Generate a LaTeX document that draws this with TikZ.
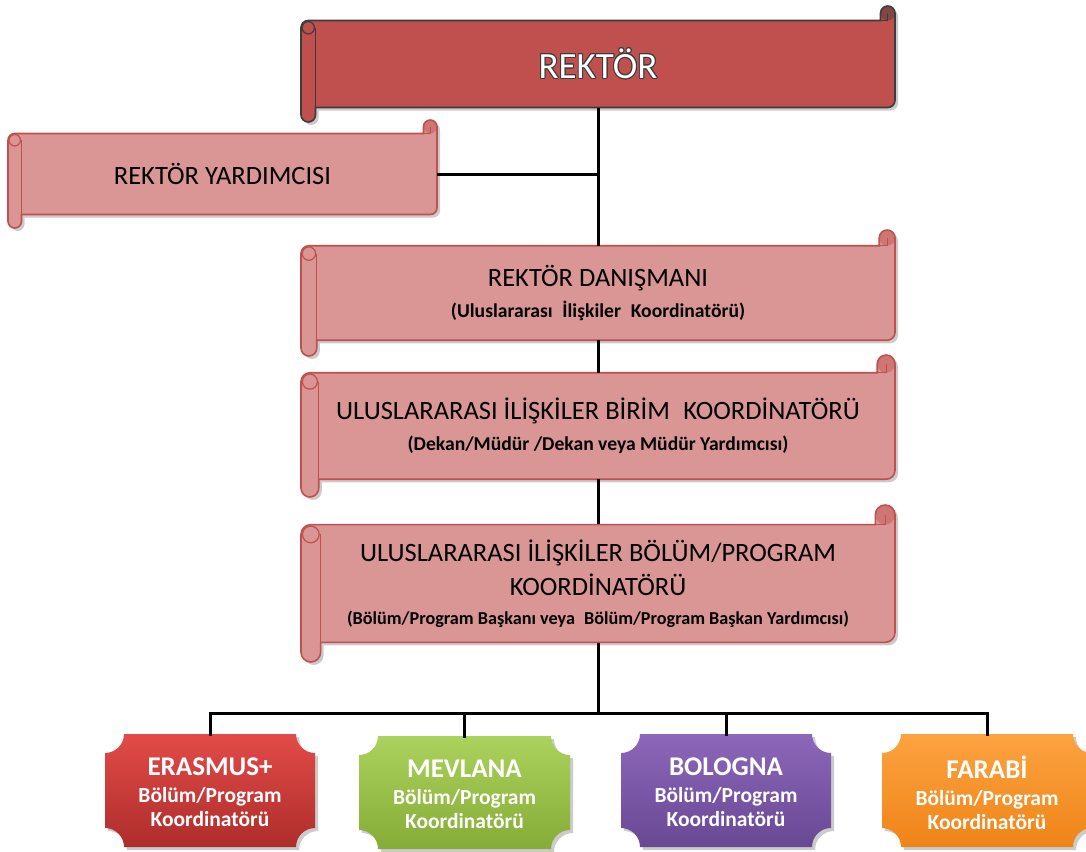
\documentclass[tikz,border=0pt]{standalone}
\usepackage{fontspec}
\usepackage[copies]{contour}
\setmainfont{Carlito}
\contourlength{0.9pt}
\contournumber{24}
\definecolor{rekfill}{HTML}{C0504D}
\definecolor{rekline}{HTML}{3C3C3C}
\definecolor{scfill}{HTML}{D99694}
\definecolor{scline}{HTML}{C0504D}
\definecolor{shadowc}{HTML}{A0A0A0}
\definecolor{erA}{HTML}{E24B48}
\definecolor{erB}{HTML}{AE2D2B}
\definecolor{meA}{HTML}{AAD25C}
\definecolor{meB}{HTML}{85AC36}
\definecolor{boA}{HTML}{8D67BA}
\definecolor{boB}{HTML}{684893}
\definecolor{faA}{HTML}{FCA340}
\definecolor{faB}{HTML}{EF8418}
\tikzset{
  conn/.style={line width=3pt, black},
  sctext/.style={align=center, inner sep=0pt, text=black, font=\fontsize{26.5}{31}\selectfont},
  rektext/.style={align=center, inner sep=0pt, text=white, font=\fontsize{37}{40}\selectfont},
  pltext/.style={align=center, inner sep=0pt, text=white, font=\bfseries\fontsize{21.5}{24}\selectfont},
}
\newcommand\subt[1]{{\bfseries\fontsize{19.6}{22}\selectfont #1}}
\newcommand\subtb[1]{{\bfseries\fontsize{18.2}{22}\selectfont #1}}
\newcommand\plt[1]{{\fontsize{27}{28}\selectfont #1}}
% l t r b  (uses \ch and \hh)
\newcommand\scrollpath[4]{({#1},{#2+\ch+\hh}) arc[start angle=180,end angle=270,radius=\hh]
 -- ({#3-\ch},{#2+\ch}) -- ({#3-\ch},{#2+\hh}) arc[start angle=180,end angle=360,radius=\hh]
 -- ({#3},{#4-\ch-\hh}) arc[start angle=0,end angle=90,radius=\hh]
 -- ({#1+\ch},{#4-\ch}) -- ({#1+\ch},{#4-\hh}) arc[start angle=0,end angle=180,radius=\hh] -- cycle}
% name l t r b fill line style text
\newcommand\scroll[9]{%
 \pgfmathsetmacro\ch{0.125*(#5-#3)}%
 \pgfmathsetmacro\hh{\ch/2}%
 \fill[shadowc,opacity=.55] \scrollpath{#2+3}{#3+3}{#4+3}{#5+3};
 \filldraw[fill=#6,draw=#7,line width=1.6pt] \scrollpath{#2}{#3}{#4}{#5};
 \fill[#7, opacity=.45] ({#4-\hh},{#3+\hh}) circle[radius=\hh];
 \draw[#7,line width=1.2pt] ({#4-\ch},{#3+\ch}) -- ({#4-\hh},{#3+\ch}) -- ({#4-\hh},{#3+\hh});
 \draw[#7,line width=1.2pt] ({#2+\hh},{#3+\ch+\hh}) circle[radius=\hh*0.85];
 \draw[#7,line width=1.2pt] ({#2+\ch},{#3+\ch+\hh}) -- ({#2+\ch},{#5-\hh});
 \node[#8, minimum width={#4-#2}, minimum height={#5-#3-2*\ch}] (#1) at ({(#2+#4)/2},{(#3+#5)/2}) {#9};
}
\newcommand\plaquepath[4]{({#1},{#2+19}) arc[start angle=90,end angle=0,radius=19]
 -- ({#3-19},{#2}) arc[start angle=180,end angle=90,radius=19]
 -- ({#3},{#4-19}) arc[start angle=270,end angle=180,radius=19]
 -- ({#1+19},{#4}) arc[start angle=0,end angle=-90,radius=19] -- cycle}
% name l t r b topcolor bottomcolor text
\newcommand\plaque[8]{%
 \fill[shadowc,opacity=.55] \plaquepath{#2+3}{#3+3}{#4+3}{#5+3};
 \shade[top color=#6, bottom color=#7] \plaquepath{#2}{#3}{#4}{#5};
 \node[pltext, minimum width={#4-#2}, minimum height={#5-#3}] (#1) at ({(#2+#4)/2},{(#3+#5)/2+2}) {#8};
}
\begin{document}
\begin{tikzpicture}[x=1pt,y=1pt,yscale=-1]
\useasboundingbox (0,0) rectangle (1086,851);
\clip (0,0) rectangle (1086,851);
\coordinate (bus) at (598,713);
\scroll{rektor}{301}{6}{895}{122}{rekfill}{rekline}{rektext}{\contour{rekline}{REKTÖR}}
\scroll{yard}{8}{120}{437}{228}{scfill}{scline}{sctext}{REKTÖR YARDIMCISI}
\scroll{danis}{301}{230}{895}{356}{scfill}{scline}{sctext}{REKTÖR DANIŞMANI\\[0pt]\subt{(Uluslararası\enspace İlişkiler\enspace Koordinatörü)}}
\scroll{birim}{301}{355}{895}{497}{scfill}{scline}{sctext}{ULUSLARARASI İLİŞKİLER BİRİM\enspace KOORDİNATÖRÜ\\[0pt]\subt{(Dekan/Müdür /Dekan veya Müdür Yardımcısı)}}
\scroll{bolum}{301}{505}{895}{662}{scfill}{scline}{sctext}{ULUSLARARASI İLİŞKİLER BÖLÜM/PROGRAM\\[3pt]KOORDİNATÖRÜ\\[-2pt]\subtb{(Bölüm/Program Başkanı veya\enspace Bölüm/Program Başkan Yardımcısı)}}
\plaque{erasmus}{105}{734}{315}{847}{erA}{erB}{\plt{ERASMUS+}\\[3pt]Bölüm/Program\\Koordinatörü}
\plaque{mevlana}{359}{736}{570}{849}{meA}{meB}{\plt{MEVLANA}\\[3pt]Bölüm/Program\\Koordinatörü}
\plaque{bologna}{621}{734}{831}{847}{boA}{boB}{\plt{BOLOGNA}\\[3pt]Bölüm/Program\\Koordinatörü}
\plaque{farabi}{882}{734}{1092}{847}{faA}{faB}{\plt{FARABİ}\\[3pt]Bölüm/Program\\Koordinatörü}
\draw[conn] (rektor.south) -- (danis.north);
\draw[conn] (yard.east) -- (yard.east -| rektor.south);
\draw[conn] (danis.south) -- (birim.north);
\draw[conn] (birim.south) -- (bolum.north);
\draw[conn] (bolum.south) -- (bus);
\draw[conn] (erasmus.north) |- (bus) -| (farabi.north);
\draw[conn] (mevlana.north) -- (mevlana.north |- bus);
\draw[conn] (bologna.north) -- (bologna.north |- bus);
\end{tikzpicture}
\end{document}
